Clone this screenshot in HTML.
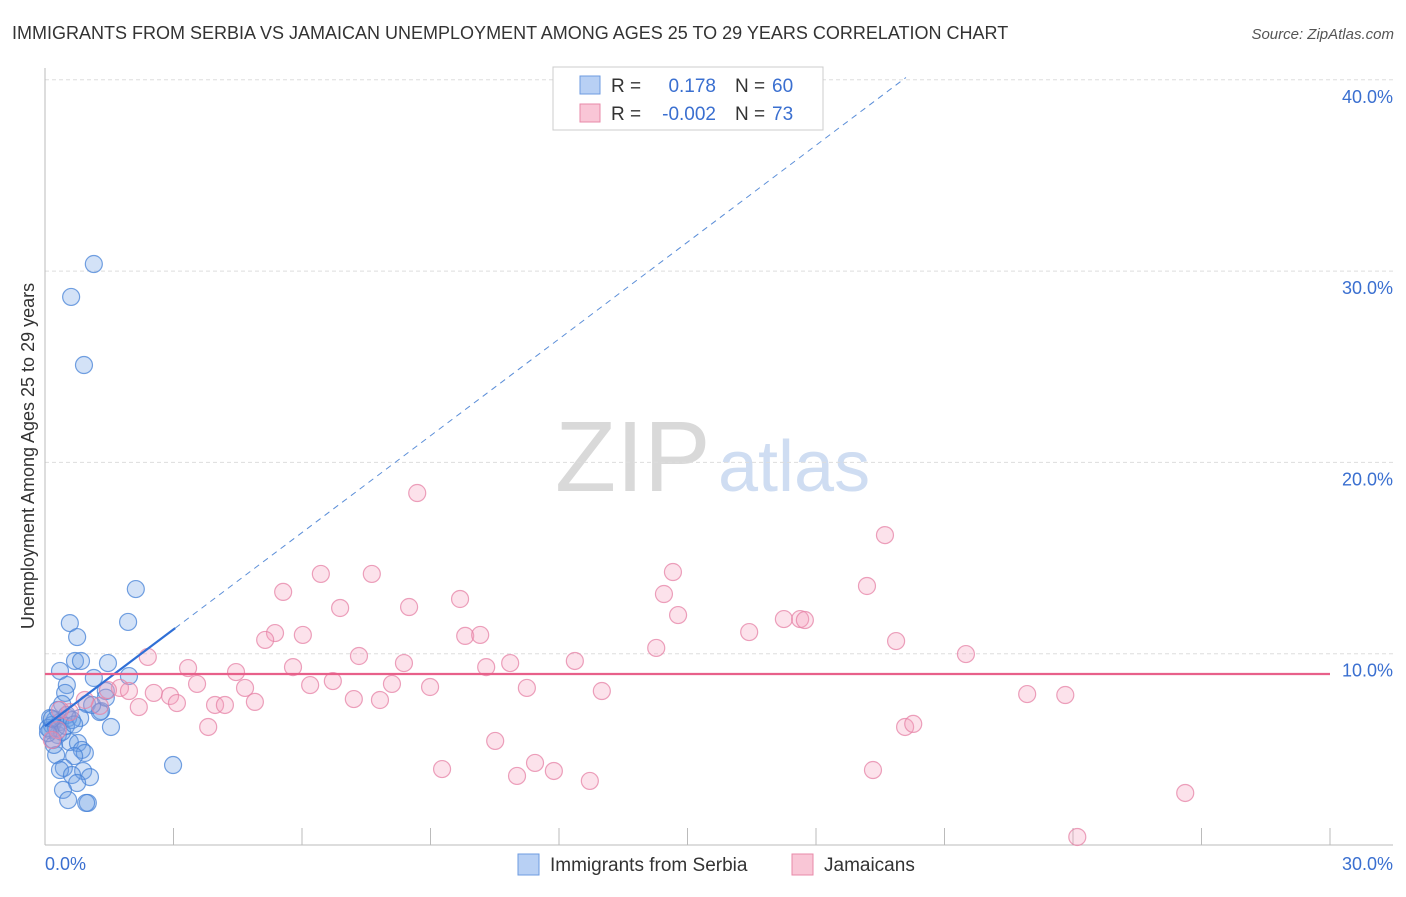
<!DOCTYPE html>
<html><head><meta charset="utf-8"><style>
body{margin:0;background:#fff;font-family:"Liberation Sans",sans-serif;}
svg text{font-family:"Liberation Sans",sans-serif;}
</style></head><body>
<svg id="chart" width="1406" height="892">
<text x="12" y="39" font-size="18" fill="#333">IMMIGRANTS FROM SERBIA VS JAMAICAN UNEMPLOYMENT AMONG AGES 25 TO 29 YEARS CORRELATION CHART</text>
<text x="1394" y="39" font-size="15" fill="#555" font-style="italic" text-anchor="end">Source: ZipAtlas.com</text>
<text x="555" y="491" font-size="100" fill="#d9d9d9" font-family="Liberation Serif, serif">ZIP</text>
<text x="718" y="491" font-size="72" fill="#cfddf2">atlas</text>
<g id="grid"></g>
<g id="axes"></g>
<g id="pts"></g>
<g id="trend"></g>
<text transform="translate(34,456) rotate(-90)" font-size="18" fill="#333" text-anchor="middle">Unemployment Among Ages 25 to 29 years</text>
<text x="45" y="870" font-size="18" fill="#3a6fd0">0.0%</text>
<text x="1393" y="870" font-size="18" fill="#3a6fd0" text-anchor="end">30.0%</text>
<g>
<rect x="553" y="67" width="270" height="63" fill="#fff" stroke="#ccc"/>
<rect x="580" y="76" width="20" height="18" fill="#b8d0f4" stroke="#6e9be0"/>
<rect x="580" y="104" width="20" height="18" fill="#f9c6d6" stroke="#e88aa8"/>
<text x="611" y="92" font-size="19" fill="#333">R =</text>
<text x="716" y="92" font-size="19" fill="#3a6fd0" text-anchor="end">0.178</text>
<text x="735" y="92" font-size="19" fill="#333">N =</text>
<text x="772" y="92" font-size="19" fill="#3a6fd0">60</text>
<text x="611" y="120" font-size="19" fill="#333">R =</text>
<text x="716" y="120" font-size="19" fill="#3a6fd0" text-anchor="end">-0.002</text>
<text x="735" y="120" font-size="19" fill="#333">N =</text>
<text x="772" y="120" font-size="19" fill="#3a6fd0">73</text>
</g>
<g>
<rect x="518" y="854" width="21" height="21" fill="#b8d0f4" stroke="#6e9be0"/>
<text x="550" y="871" font-size="19" fill="#333">Immigrants from Serbia</text>
</g>
<g>
<rect x="792" y="854" width="21" height="21" fill="#f9c6d6" stroke="#e88aa8"/>
<text x="824" y="871" font-size="19" fill="#333">Jamaicans</text>
</g>
</svg>
<script>
const yTicks=[10,20,30,40];
const xTickCount=10;
const blueX=[1.14,0.61,0.91,2.12,1.94,0.58,0.75,0.35,0.70,0.84,1.47,0.51,1.14,1.96,1.42,0.47,0.40,0.98,1.31,1.54,0.23,0.35,0.54,0.12,0.30,0.19,0.58,0.77,0.86,0.26,0.93,0.68,0.44,0.35,0.89,0.63,1.05,0.75,0.42,0.54,1.00,0.96,2.99,0.51,0.16,0.07,0.26,0.40,1.28,0.12,0.30,0.49,0.82,1.10,0.63,0.21,0.07,1.42,0.68,0.16];
const blueY=[30.37,28.65,25.09,13.38,11.66,11.60,10.87,9.10,9.62,9.62,9.51,8.36,8.73,8.83,8.05,7.95,7.37,7.37,7.00,6.17,6.53,6.43,6.64,6.01,5.75,5.49,5.38,5.33,4.97,4.70,4.81,4.65,4.03,3.92,3.87,3.66,3.55,3.24,2.88,2.35,2.20,2.20,4.18,6.80,6.27,6.12,6.12,5.91,6.95,6.64,7.06,6.22,6.64,7.32,6.53,5.23,5.85,7.7,6.3,6.6];
const pinkX=[8.69,19.61,14.66,6.44,7.63,19.19,5.56,9.69,14.45,6.89,8.50,14.78,17.25,17.63,17.74,5.37,6.02,9.81,10.16,16.44,5.14,19.87,14.27,2.40,7.33,12.37,21.50,3.34,5.79,8.38,10.30,10.86,4.46,6.72,3.55,4.67,6.19,8.10,8.99,11.25,13.00,1.75,2.54,1.96,2.92,3.08,1.47,0.58,1.28,3.97,4.20,4.90,7.21,7.82,2.19,22.93,23.82,3.81,20.08,20.27,10.51,9.27,19.33,11.44,11.02,11.88,12.72,26.62,24.10,0.35,0.93,0.30,0.16];
const pinkY=[18.40,16.20,14.27,14.17,14.17,13.54,13.23,12.86,13.12,12.39,12.44,12.02,11.81,11.81,11.76,11.08,10.98,10.93,10.98,11.13,10.72,10.66,10.30,9.83,9.88,9.62,9.98,9.25,9.30,9.51,9.30,9.51,9.04,8.57,8.42,8.21,8.36,8.42,8.26,8.21,8.05,8.21,7.95,8.05,7.79,7.42,8.10,6.95,7.27,7.32,7.32,7.48,7.63,7.58,7.21,7.89,7.84,6.17,6.17,6.33,5.44,3.97,3.92,4.29,3.61,3.87,3.35,2.72,0.42,7.06,7.58,6.01,5.49];
const blueTrend=[6.21,1.687,3.04,20.1];
const pinkTrend=[8.94];
const X0=45,X1=1330,Y0=845,PX=(X1-X0)/30,PY=19.13;
const sx=v=>X0+v*PX, sy=v=>Y0-v*PY;
const NS='http://www.w3.org/2000/svg';
function mk(tag,attrs,parent){const e=document.createElementNS(NS,tag);for(const k in attrs)e.setAttribute(k,attrs[k]);document.getElementById(parent).appendChild(e);return e;}
yTicks.forEach(t=>{
 const g=mk('line',{x1:X0,x2:1393,y1:sy(t),y2:sy(t),stroke:'#ddd','stroke-dasharray':'4,3'},'grid');
 
 
 const l=mk('text',{x:1393,y:sy(t)+23,'font-size':18,fill:'#3a6fd0','text-anchor':'end'},'grid');
 l.textContent=t.toFixed(1)+'%';
 
 
});
let ax=mk('line',{x1:X0,x2:X0,y1:68,y2:Y0,stroke:'#bbb'},'axes');


ax=mk('line',{x1:X0,x2:1393,y1:Y0,y2:Y0,stroke:'#bbb'},'axes');


for(let i=1;i<=xTickCount;i++){
 const t=mk('line',{x1:sx(i*3),x2:sx(i*3),y1:828,y2:Y0,stroke:'#bbb'},'axes');
 
 
}
blueX.forEach((x,i)=>{
 const c=mk('circle',{cx:sx(x),cy:sy(blueY[i]),r:8.5,fill:'rgba(110,160,230,0.3)',stroke:'rgba(70,130,215,0.75)','stroke-width':1.2},'pts');
 
 
});
pinkX.forEach((x,i)=>{
 const c=mk('circle',{cx:sx(x),cy:sy(pinkY[i]),r:8.5,fill:'rgba(245,160,190,0.3)',stroke:'rgba(230,130,165,0.75)','stroke-width':1.2},'pts');
 
 
});
const [b0,b1,bs,be]=blueTrend;
let tl=mk('line',{x1:sx(0),y1:sy(b0),x2:sx(bs),y2:sy(b0+b1*bs),stroke:'#2f6fd6','stroke-width':2.2},'trend');


tl=mk('line',{x1:sx(bs),y1:sy(b0+b1*bs),x2:sx(be),y2:sy(b0+b1*be),stroke:'#5b8ed8','stroke-width':1,'stroke-dasharray':'6,5'},'trend');


tl=mk('line',{x1:sx(0),y1:sy(pinkTrend[0]),x2:sx(30),y2:sy(pinkTrend[0]),stroke:'#e8608a','stroke-width':2.2},'trend');


</script>
</body></html>
